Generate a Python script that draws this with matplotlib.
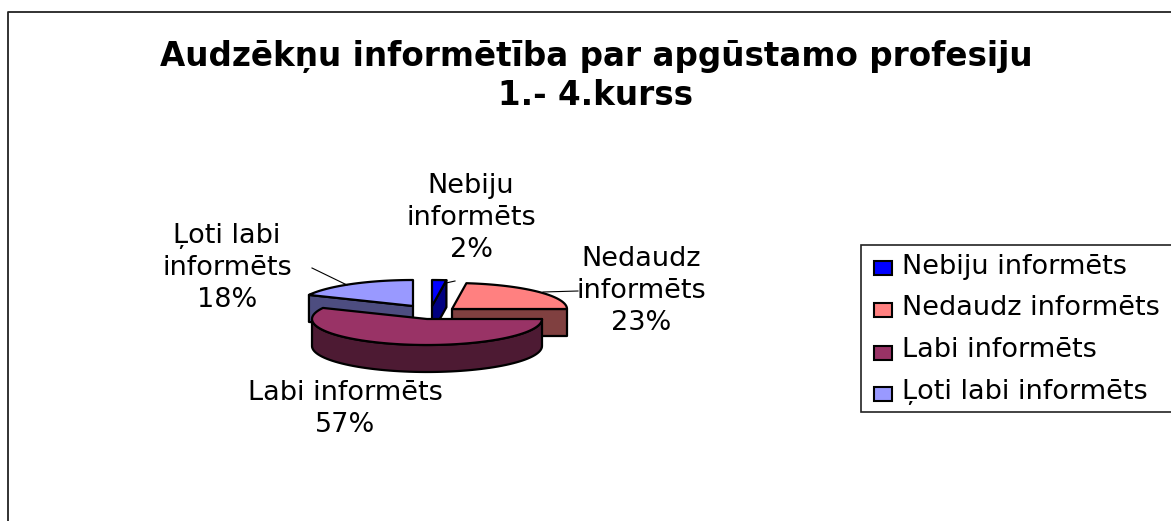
#!/usr/bin/env python3
# Exploded "3D" pie drawn by hand, axes run in image pixels
import numpy as np
import matplotlib
matplotlib.use('Agg')
import matplotlib.pyplot as plt
from matplotlib.patches import Polygon, Rectangle

# the original is a stretched Arial, DejaVu has about the same proportions
plt.rcParams['font.family'] = ['DejaVu Sans']

title = 'Audzēkņu informētība par apgūstamo profesiju\n1.- 4.kurss'
categories = ['Nebiju informēts', 'Nedaudz informēts', 'Labi informēts', 'Ļoti labi informēts']
shares = [2, 23, 57, 18]
top_colors = ['#0000FF', '#FF8080', '#993366', '#9999FF']
side_colors = ['#000080', '#804040', '#4D1A33', '#4D4D80']

# apex of each exploded slice in pixels, and the pie's shape
apex = [(432, 306), (452, 309), (427, 319), (413, 306)]
rx, ry, depth = 115, 26, 27
draw_order = [3, 0, 1, 2]

fig = plt.figure(figsize=(11.71, 5.21), dpi=100)
ax = fig.add_axes([0, 0, 1, 1])
ax.set_xlim(0, 1171)
ax.set_ylim(521, 0)
ax.axis('off')

# chart border, runs off the image on the right and at the bottom
ax.plot([8, 8, 1171], [521, 12, 12], color='#222222', lw=1.3)


def slice_outline(i):
    # starts at 12 o'clock going clockwise
    ends = np.cumsum(shares) / sum(shares) * 2 * np.pi
    start = ends[i] - shares[i] / sum(shares) * 2 * np.pi
    t = np.linspace(start, ends[i], 80)
    cx, cy = apex[i]
    xs = np.r_[cx, cx + rx * np.sin(t)]
    ys = np.r_[cy, cy - ry * np.cos(t)]
    return np.column_stack([xs, ys])


def draw_slice(i):
    pts = slice_outline(i)
    n = len(pts)
    # clockwise on screen: an edge faces the viewer if it runs right to left
    visible = [pts[(k + 1) % n][0] < pts[k][0] - 1e-9 for k in range(n)]
    first = next((k for k in range(n) if visible[k] and not visible[k - 1]), None)
    if first is not None:
        run = []
        k = first
        while visible[k % n] and len(run) < n:
            run.append(k % n)
            k += 1
        run.append(k % n)
        upper = pts[run]
        lower = upper[::-1] + [0, depth]
        ax.add_patch(Polygon(np.vstack([upper, lower]), closed=True, fc=side_colors[i],
                             ec='black', lw=1.6, joinstyle='round'))
    ax.add_patch(Polygon(pts, closed=True, fc=top_colors[i], ec='black', lw=1.6,
                         joinstyle='round'))


for i in draw_order:
    draw_slice(i)

ax.text(596, 76, title, ha='center', va='center', fontsize=23.5, fontweight='bold',
        linespacing=1.23)

# data labels
labels = ['Nebiju\ninformēts\n2%', 'Nedaudz\ninformēts\n23%',
          'Labi informēts\n57%', 'Ļoti labi\ninformēts\n18%']
label_pos = [(471, 218), (641, 291), (345, 409), (227, 268)]
for txt, (x, y) in zip(labels, label_pos):
    ax.text(x, y, txt, ha='center', va='center', fontsize=19.5, linespacing=1.28)

# leader lines
ax.plot([312, 347], [268, 285], color='black', lw=0.8)
ax.plot([446, 455], [283, 281], color='black', lw=0.8)
ax.plot([543, 578], [292, 291], color='black', lw=0.8)

# legend
ax.add_patch(Rectangle((861, 245), 320, 167, fc='white', ec='#222222', lw=1.2))
marker_y = [268, 310, 353, 394]
text_y = [267, 308, 350, 392]
for name, col, my, ty in zip(categories, top_colors, marker_y, text_y):
    ax.add_patch(Rectangle((874, my - 7), 18, 14, fc=col, ec='black', lw=1.5))
    ax.text(902, ty, name, ha='left', va='center', fontsize=19.5)

fig.savefig('out.png', dpi=100)
